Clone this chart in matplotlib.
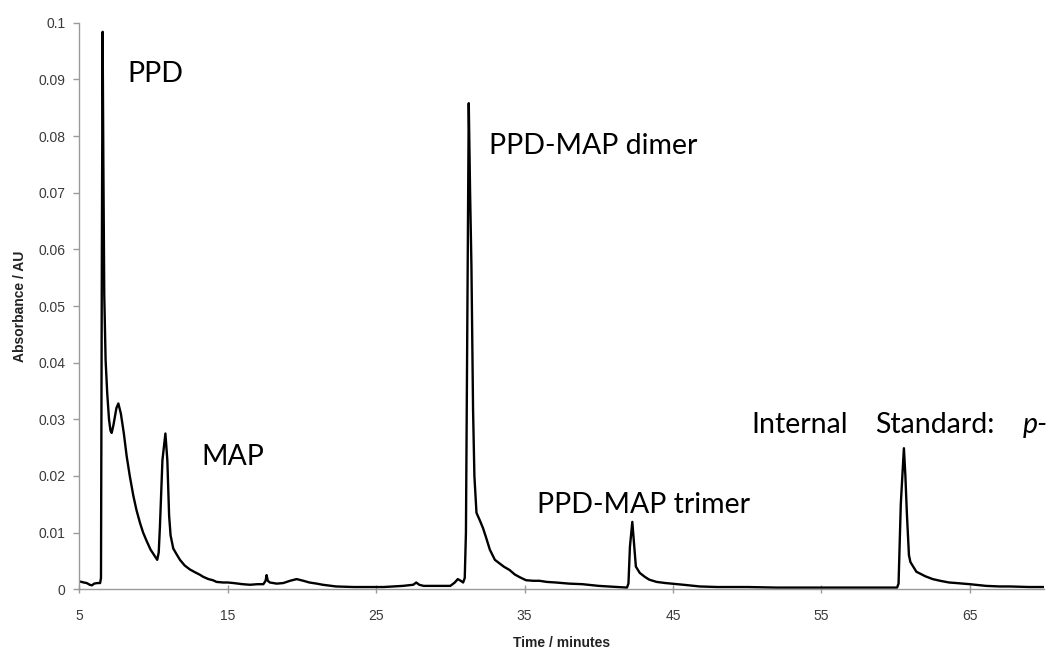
import matplotlib
matplotlib.use("Agg")
import matplotlib.pyplot as plt

# HPLC chromatogram: retention time (min) vs absorbance (AU)
time_min = [
    5.0, 5.3, 5.5, 5.7, 5.85, 6.0, 6.2, 6.4, 6.46, 6.52, 6.57, 6.62, 6.68, 6.77, 6.88,
    7.0, 7.1, 7.18, 7.3, 7.5, 7.63, 7.8, 8.0, 8.19, 8.4, 8.64, 8.85, 9.09, 9.3, 9.54,
    9.8, 10.0, 10.25, 10.35, 10.43, 10.6, 10.8, 10.93, 11.05, 11.15, 11.33, 11.55, 11.78,
    12.1, 12.45, 12.8, 13.1, 13.35, 13.7, 14.0, 14.25, 14.7, 15.0, 15.4, 16.0, 16.5,
    17.0, 17.4, 17.55, 17.62, 17.7, 17.84, 18.3, 18.74, 19.2, 19.64, 20.1, 20.5, 21.0,
    21.4, 22.3, 23.5, 24.5, 25.5, 26.2, 26.8, 27.5, 27.7, 27.9, 28.2, 29.0, 30.0, 30.3,
    30.5, 30.7, 30.86, 30.97, 31.05, 31.15, 31.24, 31.33, 31.42, 31.53, 31.62, 31.76,
    31.98, 32.2, 32.4, 32.66, 33.0, 33.3, 33.6, 33.99, 34.35, 34.7, 35.1, 35.6, 36.0,
    36.5, 37.1, 38.0, 38.9, 40.0, 41.2, 41.9, 42.0, 42.1, 42.26, 42.38, 42.5, 42.76,
    43.1, 43.4, 43.9, 44.5, 45.7, 46.8, 48.0, 50.0, 52.0, 54.0, 56.0, 58.0, 60.1, 60.2,
    60.35, 60.56, 60.66, 60.76, 60.9, 61.0, 61.4, 62.0, 62.5, 63.0, 63.6, 64.1, 65.0,
    66.1, 67.0, 67.7, 69.0, 70.0,
]
absorbance = [
    0.0014, 0.0012, 0.0011, 0.0008, 0.0007, 0.0010, 0.0011, 0.0011, 0.0020, 0.060, 0.0984,
    0.075, 0.052, 0.0405, 0.0346,
    0.0300, 0.0280, 0.0276, 0.0290, 0.0320, 0.0328, 0.0310, 0.0275, 0.0235, 0.0200,
    0.0165, 0.0140, 0.0117, 0.0100, 0.0085,
    0.0070, 0.0062, 0.0052, 0.0065, 0.011, 0.0228, 0.0275, 0.0228, 0.0130, 0.0095,
    0.0072, 0.0062, 0.0052,
    0.0042, 0.0035, 0.0030, 0.0026, 0.0022, 0.0018, 0.0016, 0.0013, 0.0012, 0.0012,
    0.0011, 0.0009, 0.0008,
    0.0009, 0.0009, 0.0015, 0.0025, 0.0015, 0.0012, 0.0010, 0.0011, 0.0015, 0.0018,
    0.0015, 0.0012, 0.0010,
    0.0008, 0.0005, 0.0004, 0.0004, 0.0004, 0.0005, 0.0006, 0.0008, 0.0012, 0.0008,
    0.0006, 0.0006, 0.0006, 0.0012,
    0.0018, 0.0015, 0.0012, 0.0020, 0.010, 0.050, 0.0858, 0.070, 0.0571, 0.0317, 0.0200,
    0.0135,
    0.0122, 0.0108, 0.0092, 0.0070, 0.0052, 0.0046, 0.0040, 0.0034, 0.0026, 0.0021,
    0.0016, 0.0015, 0.0015,
    0.0013, 0.0012, 0.0010, 0.0009, 0.0006, 0.0004, 0.0003, 0.0010, 0.0075, 0.0119,
    0.0080, 0.0040, 0.0029,
    0.0022, 0.0017, 0.0013, 0.0011, 0.0008, 0.0005, 0.0004, 0.0004, 0.0003, 0.0003,
    0.0003, 0.0003, 0.0003, 0.0010,
    0.0150, 0.0249, 0.0200, 0.0134, 0.0060, 0.0048, 0.0031, 0.0023, 0.0018, 0.0015,
    0.0012, 0.0011, 0.0009,
    0.0006, 0.0005, 0.0005, 0.0004, 0.0004,
]

x_ticks = [5, 15, 25, 35, 45, 55, 65]
y_ticks = [0, 0.01, 0.02, 0.03, 0.04, 0.05, 0.06, 0.07, 0.08, 0.09, 0.1]
y_tick_labels = ["0", "0.01", "0.02", "0.03", "0.04", "0.05", "0.06", "0.07",
                 "0.08", "0.09", "0.1"]

# peak labels: (text, time, absorbance) for the text anchor
peak_labels = [
    ("PPD", 8.21, 0.0895),
    ("MAP", 13.24, 0.0219),
    ("PPD-MAP dimer", 32.61, 0.0769),
    ("PPD-MAP trimer", 35.82, 0.0134),
    ("Internal", 50.3, 0.0275),
    ("Standard:", 58.65, 0.0275),
]

fig = plt.figure(figsize=(10.52, 6.5), dpi=100)
ax = fig.add_axes([0.0754, 0.0934, 0.9170, 0.8716])

ax.plot(time_min, absorbance, color="black", lw=1.7, solid_joinstyle="round")

ax.set_xlim(5, 70)
ax.set_ylim(0, 0.1)
ax.set_xticks(x_ticks)
ax.set_xticklabels([str(v) for v in x_ticks])
ax.set_yticks(y_ticks)
ax.set_yticklabels(y_tick_labels)

for side in ("top", "right"):
    ax.spines[side].set_visible(False)
for side in ("left", "bottom"):
    ax.spines[side].set_color("#9a9a9a")
    ax.spines[side].set_linewidth(1.0)

ax.tick_params(axis="y", direction="out", length=4, width=1, color="#9a9a9a",
               pad=6, labelsize=10, labelcolor="#3a3a3a")
ax.tick_params(axis="x", direction="inout", length=6, width=1, color="#9a9a9a",
               pad=11, labelsize=10, labelcolor="#3a3a3a")
for lab in ax.get_xticklabels() + ax.get_yticklabels():
    lab.set_fontfamily("Liberation Sans")

ax.set_xlabel("Time / minutes", fontsize=10, fontweight="bold",
              family="Liberation Sans", color="#222222", va="center")
ax.set_ylabel("Absorbance / AU", fontsize=10, fontweight="bold",
              family="Liberation Sans", color="#222222", va="center")
ax.xaxis.set_label_coords(0.5, -0.0948)
ax.yaxis.set_label_coords(-0.0615, 0.5)

for text, t, a in peak_labels:
    ax.text(t, a, text, fontsize=20.5, family="Lato", color="black",
            ha="left", va="baseline", clip_on=False)
ax.text(68.55, 0.0275, "p-", fontsize=20.5, family="Lato", style="italic",
        color="black", ha="left", va="baseline", clip_on=False)

fig.savefig("out.png", dpi=100)
